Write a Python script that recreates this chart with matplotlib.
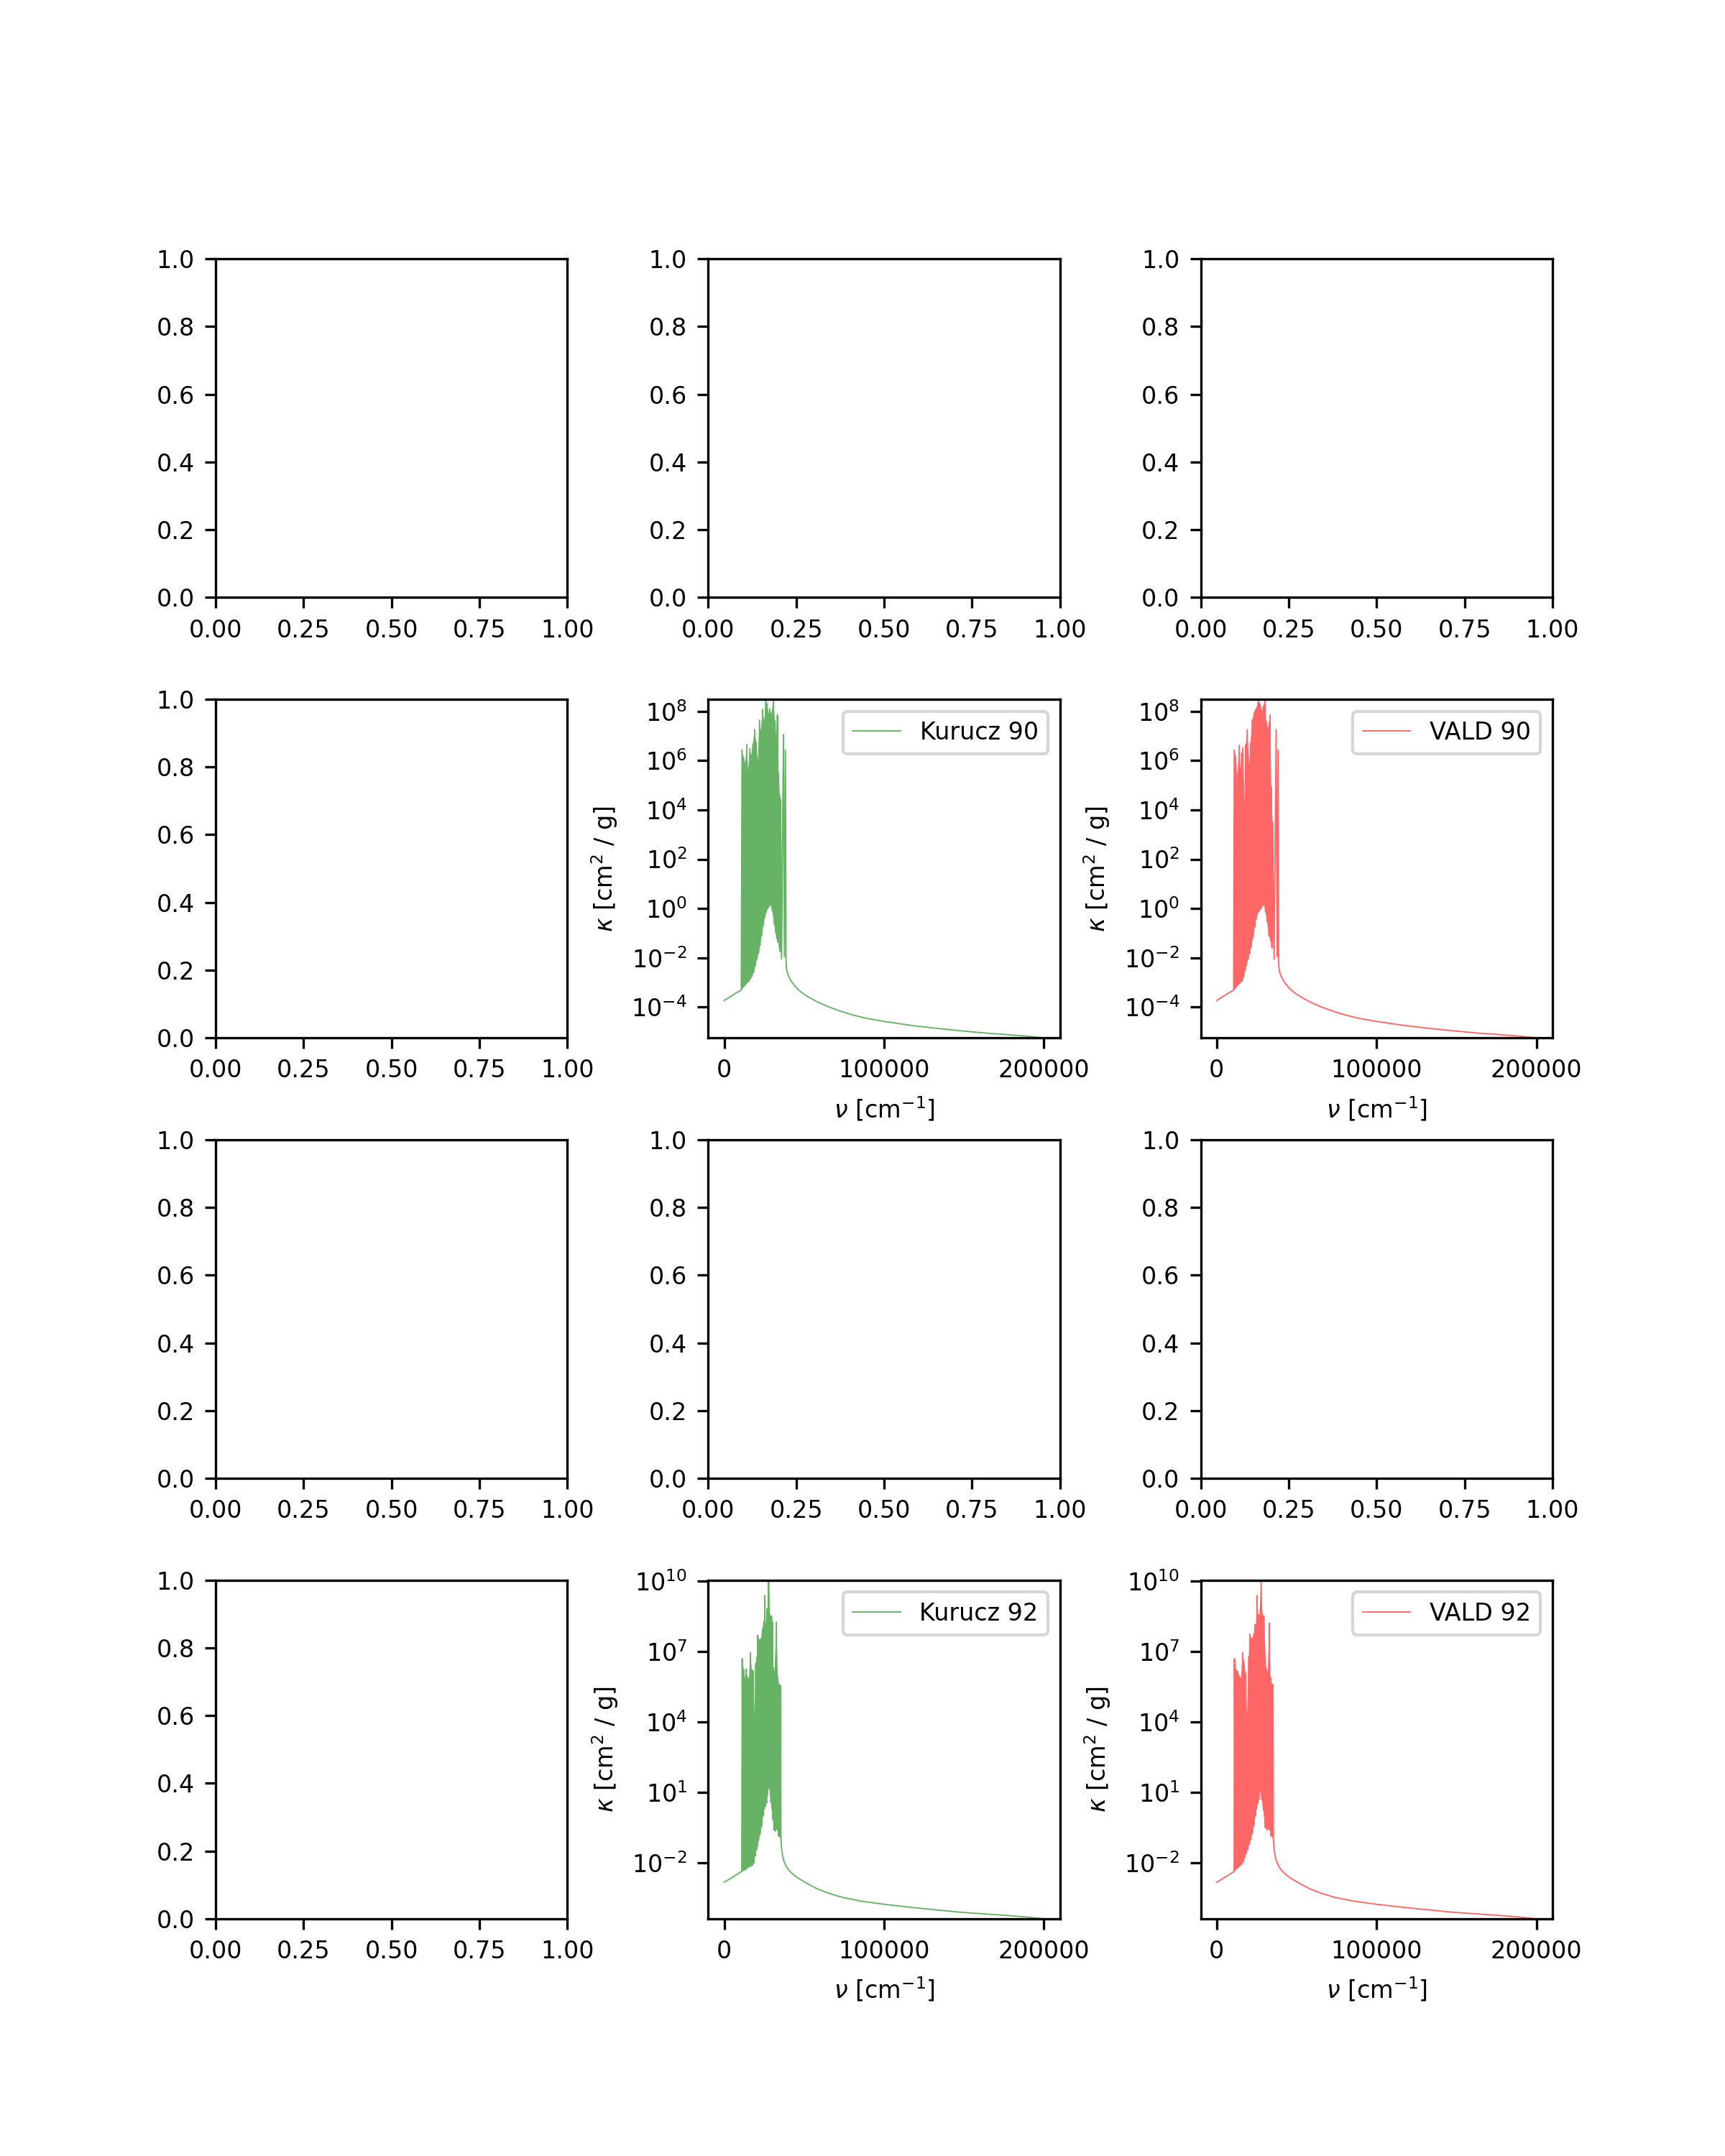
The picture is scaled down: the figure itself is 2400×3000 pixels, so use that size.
import numpy as np
import matplotlib
matplotlib.use("Agg")
import matplotlib.pyplot as plt

plt.rcParams["font.size"] = 8

# ---------------- data (nu in units of 1000 cm^-1, kappa as log10) ----------------
# Row "90": shared continuum
c90_left_nu = [0.0, 2.5, 5.0, 7.5]
c90_left_log = [-3.73, -3.63, -3.53, -3.42]
c90_right_nu = [38.7, 39.0, 39.5, 40.1, 41.5, 43.1, 46.0, 49.1, 53.0, 58.1, 65.0, 73.0, 80.0,
                88.0, 100.0, 118.0, 133.0, 148.0, 163.0, 178.0, 190.0, 200.0]
c90_right_log = [-2.10, -2.45, -2.60, -2.71, -2.90, -3.05, -3.27, -3.44, -3.60, -3.78, -3.98,
                 -4.17, -4.31, -4.44, -4.58, -4.75, -4.86, -4.96, -5.05, -5.12, -5.18, -5.25]

# Kurucz 90 line forest
k90_top_nu = [11.2, 12.1, 13.1, 14.2, 14.9, 16.1, 17.0, 17.9, 19.1, 20.15, 21.1, 22.1, 23.0,
              24.0, 25.0, 26.0, 26.9, 27.7, 28.5, 29.5, 30.8, 31.8, 32.5, 33.3, 34.0, 34.8,
              35.3, 37.1, 38.3]
k90_top_log = [6.43, 6.14, 5.89, 6.65, 5.60, 6.48, 6.20, 6.65, 7.26, 6.72, 6.00, 7.64, 7.20,
               8.08, 7.60, 8.49, 8.30, 7.90, 8.10, 7.90, 8.49, 7.60, 7.00, 7.85, 5.50, 4.60,
               4.43, 7.06, 6.43]
k90_bot_nu = [10.7, 11.6, 12.6, 13.6, 14.5, 15.5, 16.5, 17.4, 18.5, 19.6, 20.6, 21.6, 22.5,
              23.5, 24.5, 25.5, 26.4, 27.3, 28.1, 29.0, 30.1, 31.3, 32.1, 32.9, 33.6, 34.4,
              35.05, 35.9, 37.7]
k90_bot_log = [-3.31, -3.22, -3.15, -3.07, -3.00, -2.95, -2.85, -2.75, -2.60, -2.30, -2.05,
               -1.80, -1.50, -1.10, -0.70, -0.35, -0.15, 0.00, 0.08, 0.15, -0.10, -0.65, -0.95,
               -1.20, -1.35, -1.55, -1.75, -2.05, -1.95]
k90_dense_end = 35.3

# VALD 90 line forest
v90_top_nu = [11.0, 11.9, 12.9, 14.0, 14.9, 15.7, 16.4, 17.4, 18.2, 19.1, 20.4, 21.1, 22.2,
              23.4, 24.2, 24.9, 26.0, 27.2, 28.2, 29.1, 30.2, 30.9, 31.9, 33.4, 34.1, 35.0,
              37.2, 38.4]
v90_top_log = [6.43, 6.17, 5.31, 6.62, 5.60, 6.30, 6.52, 4.20, 6.65, 7.26, 5.80, 6.70, 7.64,
               7.94, 8.04, 8.13, 8.49, 8.30, 8.00, 8.20, 8.49, 7.60, 7.30, 7.85, 4.92, 3.50,
               7.26, 6.43]
v90_bot_nu = [10.6, 11.45, 12.4, 13.45, 14.45, 15.3, 16.05, 16.9, 17.8, 18.65, 19.75, 20.75,
              21.65, 22.8, 23.8, 24.55, 25.45, 26.6, 27.7, 28.65, 29.65, 30.55, 31.4, 32.65,
              33.75, 34.55, 35.9, 37.8]
v90_bot_log = [-3.31, -3.25, -3.18, -3.10, -3.03, -2.97, -2.92, -2.75, -2.50, -2.30, -2.05,
               -1.82, -1.55, -1.15, -0.75, -0.45, -0.22, -0.10, 0.00, 0.10, 0.15, -0.15, -0.50,
               -1.10, -1.30, -1.60, -2.05, -1.95]
v90_dense_end = 35.0

# Row "92": shared continuum
c92_left_nu = [0.0, 2.5, 5.0, 7.5]
c92_left_log = [-2.82, -2.72, -2.62, -2.51]
c92_right_nu = [35.8, 36.3, 37.1, 38.5, 40.1, 43.0, 46.1, 50.0, 58.1, 65.0, 73.0, 85.0, 100.0,
                118.0, 133.0, 148.0, 163.0, 178.0, 190.0, 200.0]
c92_right_log = [-1.30, -1.60, -1.87, -2.10, -2.28, -2.48, -2.64, -2.80, -3.10, -3.28, -3.45,
                 -3.62, -3.76, -3.90, -4.00, -4.10, -4.17, -4.24, -4.31, -4.38]

# Kurucz 92 line forest
k92_top_nu = [11.3, 12.3, 13.1, 13.8, 14.3, 15.5, 16.4, 17.3, 18.2, 19.1, 19.8, 20.6, 21.0,
              22.1, 23.0, 24.0, 24.8, 25.4, 26.1, 26.9, 27.3, 27.8, 28.7, 29.6, 30.2, 30.8,
              31.5, 32.6, 33.6, 34.4, 35.3]
k92_top_log = [6.69, 6.21, 5.85, 6.25, 5.95, 5.85, 6.95, 6.21, 6.18, 4.26, 6.50, 6.77, 7.69,
               7.49, 7.54, 7.95, 8.25, 9.38, 8.10, 8.82, 8.50, 10.04, 8.56, 8.50, 8.25, 6.30,
               6.15, 8.25, 5.90, 5.60, 5.55]
k92_bot_nu = [11.0, 11.8, 12.7, 13.45, 14.05, 14.9, 15.95, 16.85, 17.75, 18.65, 19.45, 20.2,
              20.8, 21.55, 22.55, 23.5, 24.4, 25.1, 25.75, 26.5, 27.1, 27.55, 28.25, 29.15,
              29.9, 30.5, 31.15, 32.05, 33.1, 34.0, 34.85, 35.5]
k92_bot_log = [-2.36, -2.33, -2.30, -2.27, -2.24, -2.20, -2.16, -2.13, -2.10, -2.00, -1.70,
               -1.45, -1.28, -1.05, -0.78, -0.45, 0.00, 0.30, 0.42, 0.55, 0.90, 1.15, 1.20,
               0.60, 0.30, -0.15, -0.60, -0.65, -0.55, -0.85, -0.90, -0.95]
k92_dense_end = 35.5

# VALD 92 line forest
v92_top_nu = [11.1, 12.2, 13.2, 14.1, 15.2, 16.2, 17.1, 18.2, 18.9, 20.0, 20.8, 21.9, 23.0,
              23.9, 24.6, 25.2, 26.0, 26.7, 27.8, 28.7, 29.6, 30.9, 32.0, 32.9, 33.6, 34.3,
              35.2]
v92_top_log = [6.69, 6.21, 6.15, 5.95, 5.85, 6.95, 6.57, 6.06, 4.16, 6.77, 7.74, 7.53, 7.69,
               8.15, 8.10, 9.38, 8.56, 8.50, 10.04, 8.56, 8.50, 6.30, 6.15, 8.20, 5.90, 5.60,
               5.60]
v92_bot_nu = [10.9, 11.65, 12.7, 13.65, 14.65, 15.7, 16.65, 17.65, 18.55, 19.45, 20.4, 21.35,
              22.45, 23.45, 24.25, 24.9, 25.6, 26.35, 27.25, 28.25, 29.15, 30.25, 31.45, 32.45,
              33.25, 33.95, 34.75, 35.45]
v92_bot_log = [-2.36, -2.30, -2.24, -2.18, -2.12, -2.06, -1.95, -1.75, -1.58, -1.42, -1.20,
               -1.00, -0.72, -0.38, 0.00, 0.30, 0.53, 0.69, 1.10, 0.70, 0.25, -0.50, -0.60,
               -0.55, -0.60, -0.85, -0.90, -1.00]
v92_dense_end = 35.45

# ---------------- helpers ----------------
def spectrum(left_nu, left_log, top_nu, top_log, bot_nu, bot_log, right_nu, right_log):
    nu = np.concatenate([left_nu, top_nu, bot_nu, right_nu]) * 1000.0
    lg = np.concatenate([left_log, top_log, bot_log, right_log])
    order = np.argsort(nu, kind="stable")
    return nu[order], 10.0 ** lg[order]


def forest_polygon(top_nu, top_log, bot_nu, bot_log, dense_end):
    tn, tl = np.asarray(top_nu), np.asarray(top_log)
    bn, bl = np.asarray(bot_nu), np.asarray(bot_log)
    mt, mb = tn <= dense_end, bn <= dense_end
    x = np.concatenate([tn[mt], bn[mb][::-1]]) * 1000.0
    y = 10.0 ** np.concatenate([tl[mt], bl[mb][::-1]])
    return x, y


GREEN = "#66b366"
RED = "#ff6666"

panels = [
    ((1, 1), "Kurucz 90", GREEN,
     (c90_left_nu, c90_left_log, k90_top_nu, k90_top_log, k90_bot_nu, k90_bot_log,
      c90_right_nu, c90_right_log), k90_dense_end),
    ((1, 2), "VALD 90", RED,
     (c90_left_nu, c90_left_log, v90_top_nu, v90_top_log, v90_bot_nu, v90_bot_log,
      c90_right_nu, c90_right_log), v90_dense_end),
    ((3, 1), "Kurucz 92", GREEN,
     (c92_left_nu, c92_left_log, k92_top_nu, k92_top_log, k92_bot_nu, k92_bot_log,
      c92_right_nu, c92_right_log), k92_dense_end),
    ((3, 2), "VALD 92", RED,
     (c92_left_nu, c92_left_log, v92_top_nu, v92_top_log, v92_bot_nu, v92_bot_log,
      c92_right_nu, c92_right_log), v92_dense_end),
]

fig, axes = plt.subplots(4, 3, figsize=(8, 10), dpi=300)
fig.subplots_adjust(wspace=0.4, hspace=0.3)

for (r, c), label, color, parts, dense_end in panels:
    ax = axes[r, c]
    nu, kappa = spectrum(*parts)
    px, py = forest_polygon(parts[2], parts[3], parts[4], parts[5], dense_end)
    ax.fill(px, py, color=color, lw=0, zorder=1.9)
    ax.plot(nu, kappa, color=color, lw=0.45, label=label, zorder=2)
    ax.set_yscale("log")
    ax.set_ylim(kappa.min(), kappa.max())
    ax.set_xlabel(r"$\nu$ [cm$^{-1}$]")
    ax.set_ylabel(r"$\kappa$ [cm$^2$ / g]")
    ax.legend(loc="upper right")

fig.savefig("out.png", dpi=300)
